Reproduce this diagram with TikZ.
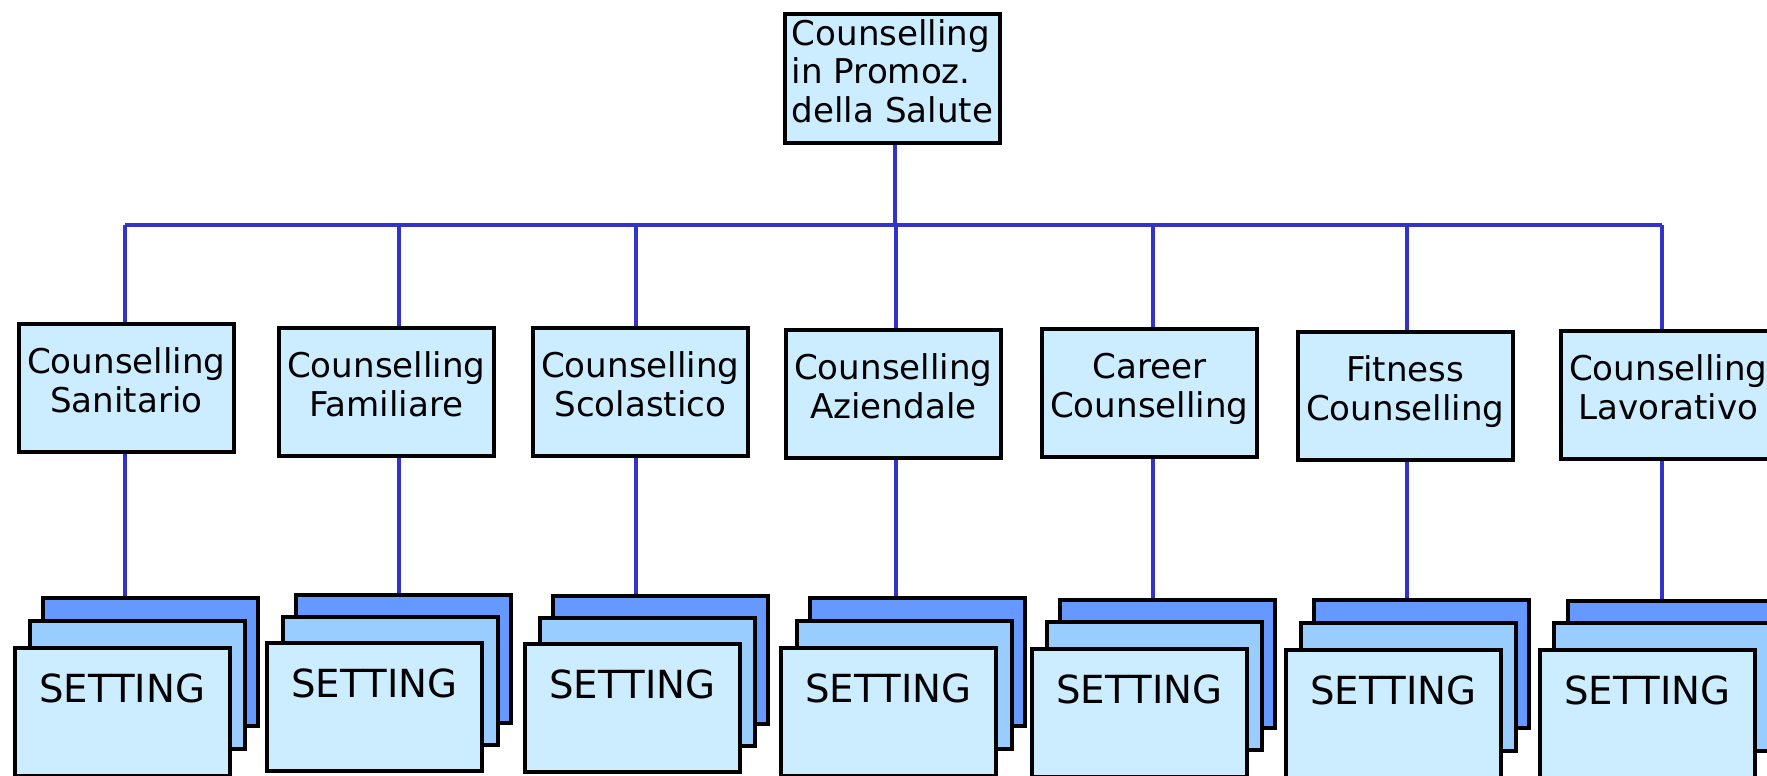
\documentclass[tikz,border=0pt]{standalone}
\usepackage{fontspec}
\setmainfont{DejaVu Sans}
\usetikzlibrary{positioning,calc}
\definecolor{boxblue}{RGB}{204,236,255}
\definecolor{midblue}{RGB}{153,204,255}
\definecolor{backblue}{RGB}{102,153,255}
\definecolor{linkblue}{RGB}{51,51,204}

\begin{document}
\begin{tikzpicture}[x=0.01cm,y=-0.01cm,
  box/.style={draw,line width=1pt,fill=boxblue,anchor=north west,minimum width=2.15cm,minimum height=1.28cm,inner sep=2pt,align=center,text depth=0.15cm,font=\fontsize{9.7pt}{11pt}\selectfont},
  setback/.style={draw,line width=1pt,fill=backblue,anchor=north west,minimum width=2.15cm,minimum height=1.28cm},
  setmid/.style={setback,fill=midblue},
  setfront/.style={setback,fill=boxblue,text height=0.3cm,text depth=0.49cm,font=\fontsize{11pt}{12pt}\selectfont},
  link/.style={draw=linkblue,line width=1pt}]
\useasboundingbox (0,0) rectangle (1767,776);
\clip (0,0) rectangle (1767,776);
\coordinate (j0) at (895,225);\coordinate (j1) at (125,225);\coordinate (j2) at (399,225);\coordinate (j3) at (636,225);
\coordinate (j4) at (896,225);\coordinate (j5) at (1153,225);\coordinate (j6) at (1407,225);\coordinate (j7) at (1662,225);
\node[box,align=left,inner ysep=0pt,minimum height=1.29cm] (root) at (783,12) {Counselling\\in Promoz.\\della Salute};
\node[box] (san) at (17,322) {Counselling\\Sanitario};
\node[box] (fam) at (277,326) {Counselling\\Familiare};
\node[box] (sco) at (531,326) {Counselling\\Scolastico};
\node[box] (azi) at (784,328) {Counselling\\Aziendale};
\node[box] (car) at (1040,327) {Career\\Counselling};
\node[box] (fit) at (1296,330) {Fitness\\Counselling};
\node[box] (lav) at (1559,329) {Counselling\\Lavorativo};
\node[setback] (set1back) at (41,596) {};\node[setmid] (set1mid) at (28,619) {};\node[setfront] (set1) at (13,646) {SETTING};
\node[setback] (set2back) at (294,593) {};\node[setmid] (set2mid) at (281,615) {};\node[setfront] (set2) at (265,641) {SETTING};
\node[setback] (set3back) at (551,594) {};\node[setmid] (set3mid) at (538,616) {};\node[setfront] (set3) at (523,642) {SETTING};
\node[setback] (set4back) at (808,596) {};\node[setmid] (set4mid) at (795,619) {};\node[setfront] (set4) at (779,646) {SETTING};
\node[setback] (set5back) at (1058,598) {};\node[setmid] (set5mid) at (1045,620) {};\node[setfront] (set5) at (1030,647) {SETTING};
\node[setback] (set6back) at (1312,598) {};\node[setmid] (set6mid) at (1299,621) {};\node[setfront] (set6) at (1284,648) {SETTING};
\node[setback] (set7back) at (1566,599) {};\node[setmid] (set7mid) at (1552,621) {};\node[setfront] (set7) at (1538,648) {SETTING};
\draw[link] (j1) -- (j7);
\draw[link] (j0 |- root.south) -- (j0);
\draw[link] (j1) -- (j1 |- san.north);\draw[link] (j1 |- san.south) -- (j1 |- set1back.north);
\draw[link] (j2) -- (j2 |- fam.north);\draw[link] (j2 |- fam.south) -- (j2 |- set2back.north);
\draw[link] (j3) -- (j3 |- sco.north);\draw[link] (j3 |- sco.south) -- (j3 |- set3back.north);
\draw[link] (j4) -- (j4 |- azi.north);\draw[link] (j4 |- azi.south) -- (j4 |- set4back.north);
\draw[link] (j5) -- (j5 |- car.north);\draw[link] (j5 |- car.south) -- (j5 |- set5back.north);
\draw[link] (j6) -- (j6 |- fit.north);\draw[link] (j6 |- fit.south) -- (j6 |- set6back.north);
\draw[link] (j7) -- (j7 |- lav.north);\draw[link] (j7 |- lav.south) -- (j7 |- set7back.north);
\end{tikzpicture}
\end{document}
